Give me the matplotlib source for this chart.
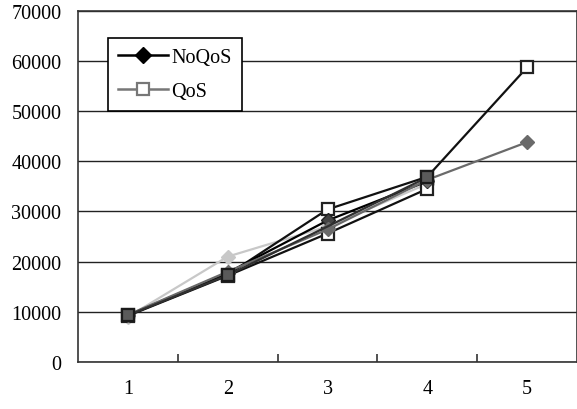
import numpy as np
from matplotlib import pyplot as plt

plt.rcParams['font.family'] = ['Liberation Serif', 'DejaVu Serif']

categories = ['1', '2', '3', '4', '5']
x = np.arange(1, 6)

# values
noqos = [9300, 17800, 28200, 36000, np.nan]
qos = [9200, 17200, 25600, 34500, np.nan]
run_a = [9300, 17400, 30400, 36900, 58700]
run_b = [9400, 18000, 26400, 36300, 43800]
run_c = [9300, 17300, 27000, 36800, np.nan]
run_d = [9000, 21000, 27000, 35500, np.nan]

fig = plt.figure(figsize=(5.77, 4.10), dpi=100)
ax = fig.add_axes([0.1352, 0.1146, 0.8648, 0.857])

ax.plot(x, run_d, color='#c8c8c8', lw=1.6, marker='D', ms=7, mfc='#c8c8c8', mec='#c8c8c8', zorder=3)
ax.plot(x, qos, color='#111111', lw=1.6, marker='s', ms=8, mfc='white', mec='#222222', mew=1.6, zorder=3)
ax.plot(x, run_a, color='#111111', lw=1.6, marker='s', ms=8, mfc='white', mec='#222222', mew=1.6, zorder=4)
ax.plot(x, noqos, color='black', lw=1.6, marker='D', ms=7, mfc='#444444', mec='#222222', zorder=4)
ax.plot(x, run_b, color='#6a6a6a', lw=1.6, marker='D', ms=7, mfc='#6a6a6a', mec='#6a6a6a', zorder=5)
ax.plot(x, run_c, color='#303030', lw=1.6, marker='s', ms=8, mfc='#5a5a5a', mec='#1a1a1a', mew=1.6,
        markevery=[0, 1, 3], zorder=6)

# legend entries only
h1, = ax.plot([], [], color='black', lw=1.8, marker='D', ms=8, mfc='black', mec='black', label='NoQoS')
h2, = ax.plot([], [], color='#777777', lw=1.8, marker='s', ms=8, mfc='white', mec='#777777', mew=1.6, label='QoS')
leg = ax.legend(handles=[h1, h2], loc='upper left', bbox_to_anchor=(108 / 577, 1 - 39 / 410),
                bbox_transform=fig.transFigure, fontsize=14.5, frameon=True, fancybox=False,
                edgecolor='black', framealpha=1, handlelength=2.5, handletextpad=0.15,
                borderpad=0.5, labelspacing=0.75, borderaxespad=0)
leg.get_frame().set_linewidth(1.2)

ax.set_xlim(0.5, 5.5)
ax.set_ylim(0, 70000)
ax.set_yticks(np.arange(0, 70001, 10000))
ax.yaxis.grid(True, color='#222222', lw=1.0)
ax.set_axisbelow(True)
ax.tick_params(axis='y', length=0, labelsize=14.5, pad=12)

ax.set_xticks([1.5, 2.5, 3.5, 4.5])
ax.set_xticklabels([])
ax.tick_params(axis='x', which='major', direction='in', length=6, width=1.2, color='#333333')
ax.set_xticks(x, minor=True)
ax.set_xticklabels(categories, minor=True)
ax.tick_params(axis='x', which='minor', length=0, labelsize=14.5, pad=12)

for s in ax.spines.values():
    s.set_color('#333333')
    s.set_linewidth(1.2)

fig.savefig('out.png', dpi=100)
